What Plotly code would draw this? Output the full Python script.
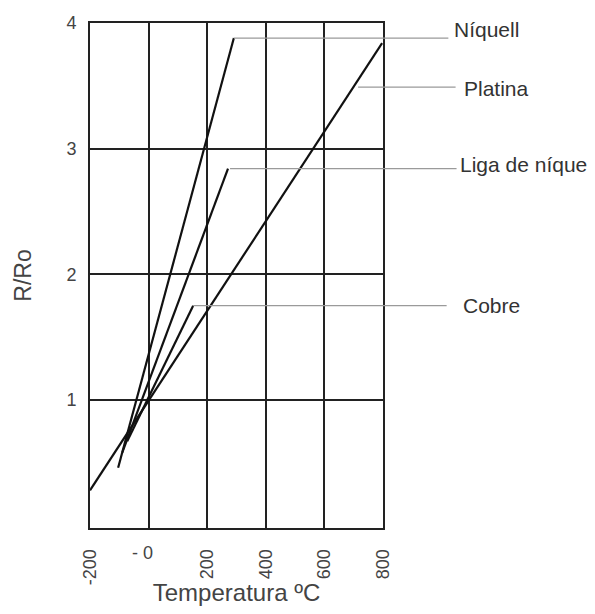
import plotly.graph_objects as go

# Data (temperature in degC, R/Ro)
niquel_t = [-104, 291]
niquel_r = [0.46, 3.88]
liga_t = [-90, 271]
liga_r = [0.58, 2.84]
cobre_t = [-73, 152]
cobre_r = [0.67, 1.75]
platina_t = [-200, 797]
platina_r = [0.28, 3.84]

x_tickvals = [-200, 0, 200, 400, 600, 800]
x_ticktext = ["-200", "", "200", "400", "600", "800"]
y_tickvals = [1, 2, 3, 4]
y_ticktext = ["1", "2", "3", "4"]

labels = ["Níquell", "Platina", "Liga de níquel", "Cobre"]
# leader anchor points on each curve (T, R)
leader_t = [291, 715, 278, 152]
leader_r = [3.88, 3.49, 2.84, 1.75]

FONT = "Liberation Sans, Arial, sans-serif"

# page offset of the figure (browser body margin)
OFF = 8
L, R_, T_, B_ = 90 - OFF, 383 - OFF, 23 - OFF, 528 - OFF
W, H = 595 - OFF, 614 - 2 * OFF

fig = go.Figure()
for t, r in [(niquel_t, niquel_r), (liga_t, liga_r), (cobre_t, cobre_r), (platina_t, platina_r)]:
    fig.add_trace(go.Scatter(x=t, y=r, mode="lines",
                             line=dict(color="#111111", width=2.2),
                             showlegend=False, hoverinfo="skip"))

# leader lines (pixel lengths) and label positions (page px)
leader_dx = [216, 99, 228, 255]
label_px = [(452, 29), (462, 88), (458, 164), (461, 305)]

for t, r, dx in zip(leader_t, leader_r, leader_dx):
    fig.add_annotation(x=t, y=r, xref="x", yref="y", text="", showarrow=True,
                       arrowhead=0, arrowwidth=1.3, arrowcolor="#9a9a9a",
                       ax=dx, ay=0, standoff=0, startstandoff=0)

for lab, (px, py) in zip(labels, label_px):
    fig.add_annotation(x=(px - OFF - L) / (R_ - L), y=(B_ - (py - OFF)) / (B_ - T_),
                       xref="paper", yref="paper", text=lab, showarrow=False,
                       xanchor="left", yanchor="middle",
                       font=dict(family=FONT, size=21, color="#333333"))

# horizontal "- 0" tick label
fig.add_annotation(x=0, y=0, xref="x", yref="paper", text="- 0", showarrow=False,
                   xanchor="center", yanchor="middle", yshift=-25, xshift=-6,
                   font=dict(family=FONT, size=18, color="#444444"))

fig.update_layout(
    width=W, height=H,
    margin=dict(l=L, r=W - R_, t=T_, b=H - B_),
    plot_bgcolor="white", paper_bgcolor="white",
    font=dict(family=FONT, color="#444444"),
    showlegend=False,
)
fig.update_xaxes(range=[-200, 800], tickvals=x_tickvals, ticktext=x_ticktext,
                 tickangle=-90, tickfont=dict(size=18, color="#444444"),
                 showgrid=True, gridcolor="#222222", gridwidth=2,
                 showline=True, linecolor="#222222", linewidth=2, mirror=True,
                 zeroline=False, ticks="", ticklabelstandoff=12, automargin=False,
                 title=dict(text="Temperatura ºC", font=dict(size=24, color="#444444"), standoff=11))
fig.update_yaxes(range=[-0.02, 4], tickvals=y_tickvals, ticktext=y_ticktext,
                 tickfont=dict(size=18, color="#444444"),
                 showgrid=True, gridcolor="#222222", gridwidth=2,
                 showline=True, linecolor="#222222", linewidth=2, mirror=True,
                 zeroline=False, ticks="", ticklabelstandoff=8, automargin=False,
                 title=dict(text="R/Ro", font=dict(size=23, color="#444444"), standoff=28))

fig.write_html("out.html")
